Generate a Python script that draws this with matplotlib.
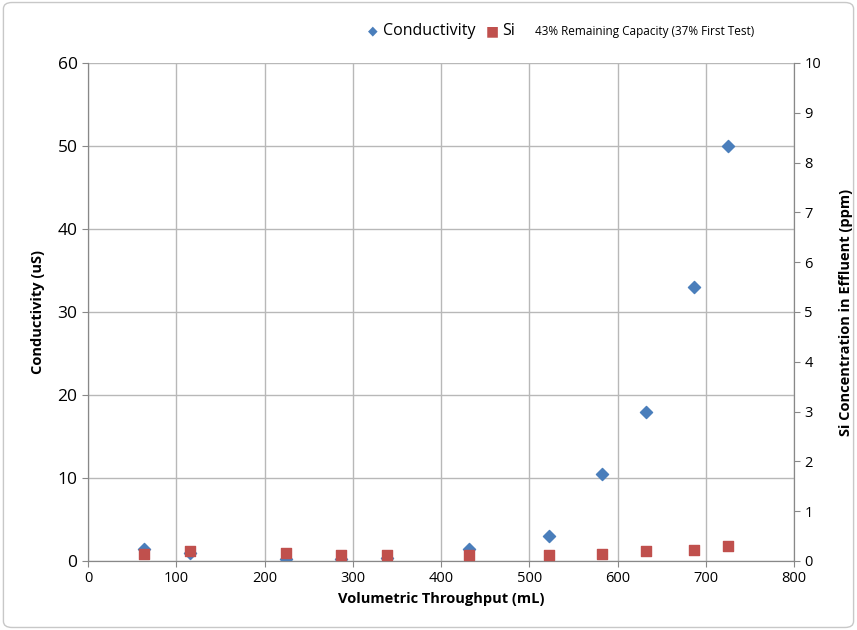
import matplotlib
matplotlib.use("Agg")
import matplotlib.pyplot as plt
from matplotlib.patches import FancyBboxPatch

plt.rcParams['font.family'] = ['Open Sans', 'DejaVu Sans']

# data
throughput = [63.5, 115.6, 224, 287, 339, 432, 522, 582, 632, 687, 725]
conductivity = [1.5, 1.0, 0.3, 0.3, 0.4, 1.5, 3.0, 10.5, 18.0, 33.0, 50.0]
si_ppm = [0.15, 0.21, 0.17, 0.13, 0.13, 0.13, 0.13, 0.14, 0.20, 0.23, 0.31]

x_ticks = list(range(0, 801, 100))
y_ticks = list(range(0, 61, 10))
y2_ticks = list(range(0, 11, 1))

fig = plt.figure(figsize=(8.57, 6.3), dpi=100)
fig.patches.append(FancyBboxPatch((0.004, 0.004), 0.992, 0.992,
                                  boxstyle="round,pad=0,rounding_size=0.01",
                                  transform=fig.transFigure, fill=False,
                                  edgecolor='#c8c8c8', lw=1))

ax = fig.add_axes([88/857, 1 - 561/630, (794-88)/857, (561-63)/630])
ax2 = ax.twinx()

ax.set_xlim(0, 800)
ax.set_ylim(0, 60)
ax2.set_ylim(0, 10)
ax.set_xticks(x_ticks)
ax.set_yticks(y_ticks)
ax2.set_yticks(y2_ticks)

ax.grid(True, color='#b8b8b8', lw=1)
ax.set_axisbelow(True)

ax.scatter(throughput, conductivity, marker='D', s=38, color='#4a7ebb', zorder=3)
ax2.scatter(throughput, si_ppm, marker='s', s=60, color='#c0504d', zorder=3)

for a in (ax, ax2):
    for s in a.spines.values():
        s.set_color('#888888')
    a.spines['top'].set_visible(False)
    a.tick_params(colors='#888888', direction='out', length=4)

ax.tick_params(axis='y', labelsize=12.5, labelcolor='black')
ax.tick_params(axis='x', labelsize=10.5, labelcolor='black')
ax2.tick_params(axis='y', labelsize=10.5, labelcolor='black')

ax.set_xlabel('Volumetric Throughput (mL)', fontsize=10.5, fontweight='bold')
ax.set_ylabel('Conductivity (uS)', fontsize=10.5, fontweight='bold', labelpad=9)
ax2.set_ylabel('Si Concentration in Effluent (ppm)', fontsize=10.5, fontweight='bold', labelpad=13)

# legend row at top
fig.text(373/857, 1 - 31/630, '\u25C6', color='#4a7ebb', fontsize=9, ha='center', va='center')
fig.text(383/857, 1 - 31/630, 'Conductivity', fontsize=11.5, va='center')
fig.text(492/857, 1 - 31/630, '\u25A0', color='#c0504d', fontsize=10, ha='center', va='center',
         family='DejaVu Sans')
fig.text(502/857, 1 - 31/630, 'Si', fontsize=11.5, va='center')
fig.text(535/857, 1 - 31/630, '43% Remaining Capacity (37% First Test)', fontsize=8.5, va='center')

fig.savefig('out.png', dpi=100)
